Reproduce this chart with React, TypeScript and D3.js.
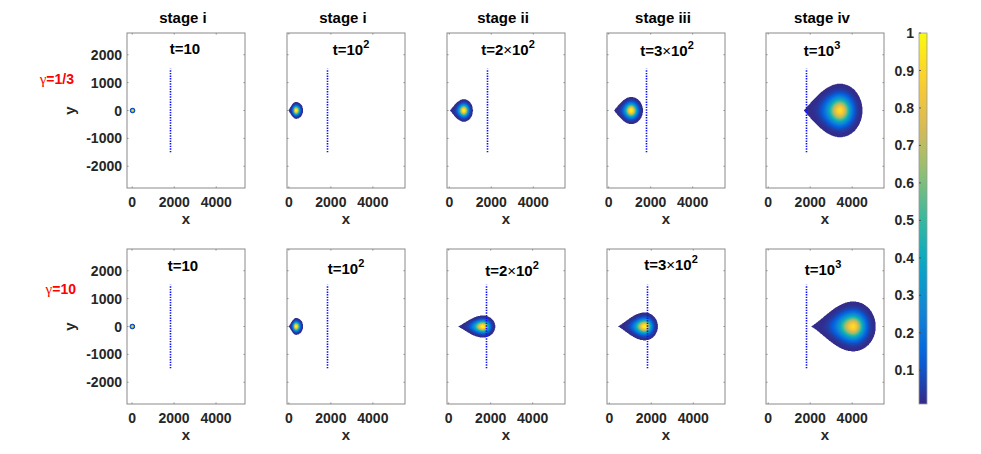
import React, { useMemo } from 'react';
import * as d3 from 'd3';

// ---------- data ----------
const stageTitles = ['stage i', 'stage i', 'stage ii', 'stage iii', 'stage iv'];
const timePrefix = ['t=10', 't=10', 't=2', 't=3', 't=10'];
const timeHasTimes = [false, false, true, true, false];
const timeExp = ['', '2', '2', '2', '3'];
const gammaValues = ['1/3', '10'];
const xTicks = [0, 2000, 4000];
const yTicks = [-2000, -1000, 0, 1000, 2000];
const cbTicks = [0.1, 0.2, 0.3, 0.4, 0.5, 0.6, 0.7, 0.8, 0.9, 1];
const cbDomain = [0.01, 1];
const barrierX = 1800;
const barrierY = [-1500, 1500];
const yLim = [-2780, 2780];
const xLimLow = [
  [-250, -90, -110, -80, -105],
  [-240, -90, -80, -110, -105],
];
const xSpan = 5620;
const tipX = [
  [-120, -30, 24, 243, 1690],
  [-120, -30, 400, 371, 2005],
];
const peakX = [
  [15, 338, 690, 1071, 3419],
  [15, 338, 1638, 1690, 4052],
];
const rightX = [
  [150, 686, 1133, 1643, 4500],
  [150, 686, 2229, 2324, 5133],
];
const halfH = [
  [100, 310, 412, 495, 968],
  [100, 310, 405, 508, 903],
];
const peakVal = [
  [1, 1, 1, 1, 0.93],
  [1, 1, 1, 1, 0.92],
];
const taper = [
  [0, 1, 1, 1, 1],
  [0, 1, 1, 1, 1],
];
const tipPower = [1.0, 1.25];
const parulaStops = ['#352a87', '#0363e1', '#1485d4', '#06a7c6', '#38b99e', '#92bf73', '#d9ba56', '#fcce2e', '#f9fb0e'];

// ---------- layout ----------
const W = 981;
const H = 454;
const colLefts = [127, 287, 447, 607, 766];
const rowTops = [33, 249];
const panelW = 118;
const panelH = 155;
const timeBaselines = [
  [54, 55, 55, 56, 56],
  [271, 274, 276, 270, 275],
];
const timeCenters = [
  [185, 351, 508, 667, 822],
  [183, 346, 512, 671, 823],
];
const FONT = "'Liberation Sans', Arial, Helvetica, sans-serif";
const AXC = '#8a8a8a';
const TXT = '#262626';

const parula = d3.piecewise(d3.interpolateRgb, parulaStops);
const cmap = (v: number) => parula(Math.max(0, Math.min(1, (v - cbDomain[0]) / (cbDomain[1] - cbDomain[0]))));

function makeField(r: number, c: number) {
  const L = tipX[r][c], P = peakX[r][c], R = rightX[r][c], hh = halfH[r][c], pv = peakVal[r][c];
  const tp = taper[r][c], beta = tipPower[r];
  const edge = 0.006;
  const k = Math.log(pv / edge);
  return (x: number, y: number) => {
    const dx = x - P;
    let d2: number;
    if (dx >= 0) {
      const a = dx / (R - P);
      const b = y / hh;
      d2 = a * a + b * b;
    } else {
      const s = -dx / (P - L);
      if (s >= 1) return 0;
      const ds = tp > 0 ? 1 - Math.pow(1 - s, 1.5) : s;
      const circ = Math.sqrt(Math.max(1e-9, 1 - ds * ds));
      const hs = (1 - tp) * Math.sqrt(1 - s * s) + tp * Math.pow(Math.cos((Math.PI * s) / 2), beta);
      const w = hs / circ;
      const b = y / (hh * w);
      d2 = ds * ds + b * b;
    }
    if (d2 >= 1) return 0;
    return Math.max(0.0101, pv * Math.exp(-k * d2));
  };
}

const thresholds = d3.range(0.01, 1.0, 0.0125);

function scalesFor(r: number, c: number) {
  const left = colLefts[c];
  const top = rowTops[r];
  const x = d3.scaleLinear().domain([xLimLow[r][c], xLimLow[r][c] + xSpan]).range([left, left + panelW]);
  const y = d3.scaleLinear().domain(yLim).range([top + panelH, top]);
  return { x, y, left, top };
}

function computeBands(r: number, c: number) {
  const { x, y } = scalesFor(r, c);
  const f = makeField(r, c);
  const step = 0.5;
  const x0 = x(tipX[r][c]) - 2;
  const x1 = x(rightX[r][c]) + 2;
  const y0 = y(halfH[r][c]) - 2;
  const y1 = y(-halfH[r][c]) + 2;
  const nx = Math.ceil((x1 - x0) / step);
  const ny = Math.ceil((y1 - y0) / step);
  const values = new Array(nx * ny);
  for (let j = 0; j < ny; j++) {
    const yy = y.invert(y0 + (j + 0.5) * step);
    for (let i = 0; i < nx; i++) {
      values[j * nx + i] = f(x.invert(x0 + (i + 0.5) * step), yy);
    }
  }
  const th = thresholds.filter((t) => t < peakVal[r][c]);
  const cs = d3.contours().size([nx, ny]).thresholds(th)(values);
  const path = d3.geoPath(d3.geoIdentity().scale(step).translate([x0, y0]) as any);
  return cs.map((g) => ({ d: path(g as any) || '', fill: cmap(g.value + 0.00625) }));
}

function Panel({ r, c }: { r: number; c: number }) {
  const { x, y, left, top } = scalesFor(r, c);
  const clipId = `clip-${r}-${c}`;
  const bands = useMemo(() => computeBands(r, c), [r, c]);
  const tl = 1.5;
  const bottom = top + panelH;
  const right = left + panelW;
  const bx = Math.round(x(barrierX)) + 0.5;
  const barrier = d3.line<number>().x(() => bx).y((v) => y(v))(barrierY) || '';

  return (
    <g>
      <defs>
        <clipPath id={clipId}>
          <rect x={left} y={top} width={panelW} height={panelH} />
        </clipPath>
      </defs>
      <rect x={left} y={top} width={panelW} height={panelH} fill="#fff" />
      <g clipPath={`url(#${clipId})`}>
        {bands.map((b, i) => (
          <path key={i} d={b.d} fill={b.fill} stroke="none" />
        ))}
        <path d={barrier} stroke="#1010ff" strokeWidth={1.6} strokeDasharray="1.4 1.2" fill="none" />
      </g>
      <rect x={left} y={top} width={panelW} height={panelH} fill="none" stroke={AXC} strokeWidth={1} />
      {xTicks.map((t) => (
        <g key={'xt' + t}>
          <line x1={x(t)} x2={x(t)} y1={bottom} y2={bottom - tl} stroke={AXC} />
          <line x1={x(t)} x2={x(t)} y1={top} y2={top + tl} stroke={AXC} />
          <text x={x(t)} y={bottom + 19} textAnchor="middle" fontFamily={FONT} fontWeight="bold" fontSize={14} fill={TXT}>
            {t}
          </text>
        </g>
      ))}
      {yTicks.map((t) => (
        <g key={'yt' + t}>
          <line x1={left} x2={left + tl} y1={y(t)} y2={y(t)} stroke={AXC} />
          <line x1={right} x2={right - tl} y1={y(t)} y2={y(t)} stroke={AXC} />
          {c === 0 && (
            <text x={left - 5} y={y(t)} dy="0.36em" textAnchor="end" fontFamily={FONT} fontWeight="bold" fontSize={14} fill={TXT}>
              {t}
            </text>
          )}
        </g>
      ))}
      <text x={left + panelW / 2} y={bottom + 35.5} textAnchor="middle" fontFamily={FONT} fontWeight="bold" fontSize={15} fill={TXT}>
        x
      </text>
      {c === 0 && (
        <text transform={`translate(74.5, ${top + panelH / 2}) rotate(-90)`} textAnchor="middle" fontFamily={FONT} fontWeight="bold" fontSize={15} fill={TXT}>
          y
        </text>
      )}
      {r === 0 && (
        <text x={left + panelW / 2 - 3} y={22.5} textAnchor="middle" fontFamily={FONT} fontWeight="bold" fontSize={15} fill="#000">
          {stageTitles[c]}
        </text>
      )}
      <text x={timeCenters[r][c]} y={timeBaselines[r][c]} textAnchor="middle" fontFamily={FONT} fontWeight="bold" fontSize={15} fill="#000">
        {timePrefix[c]}
        {timeHasTimes[c] && <tspan fontWeight="normal">×</tspan>}
        {timeHasTimes[c] && <tspan>10</tspan>}
        {timeExp[c] !== '' && (
          <tspan fontSize={11} dy={-7}>
            {timeExp[c]}
          </tspan>
        )}
      </text>
    </g>
  );
}

function Colorbar() {
  const cx = 919;
  const cw = 8;
  const cy0 = 33;
  const cy1 = 404;
  const s = d3.scaleLinear().domain(cbDomain).range([cy1, cy0]);
  const stops = d3.range(0, 1.0001, 0.05);
  return (
    <g>
      <defs>
        <linearGradient id="cbGrad" x1="0" y1="1" x2="0" y2="0">
          {stops.map((t) => (
            <stop key={t} offset={t} stopColor={parula(t)} />
          ))}
        </linearGradient>
      </defs>
      <rect x={cx} y={cy0} width={cw} height={cy1 - cy0} fill="url(#cbGrad)" stroke="#9a9a9a" strokeWidth={0.8} />
      {cbTicks.map((t) => (
        <g key={t}>
          <line x1={cx} x2={cx + 2} y1={s(t)} y2={s(t)} stroke="#444" strokeWidth={0.8} />
          <text x={914} y={s(t)} dy="0.36em" textAnchor="end" fontFamily={FONT} fontWeight="bold" fontSize={14} fill={TXT}>
            {t}
          </text>
        </g>
      ))}
    </g>
  );
}

export default function App() {
  const gammaPos = [
    { x: 74, y: 84 },
    { x: 76, y: 293.5 },
  ];
  return (
    <div style={{ position: 'absolute', left: 0, top: 0 }}>
      <svg width={W} height={H} viewBox={`0 0 ${W} ${H}`} style={{ display: 'block', background: '#fff' }}>
        {[0, 1].map((r) => [0, 1, 2, 3, 4].map((c) => <Panel key={`${r}-${c}`} r={r} c={c} />))}
        {gammaValues.map((g, i) => (
          <text key={g} x={gammaPos[i].x} y={gammaPos[i].y} textAnchor="end" fontFamily={FONT} fontWeight="bold" fontSize={14} fill="#ff0000">
            <tspan fontFamily="'Liberation Serif', 'DejaVu Serif', serif" fontWeight="normal" fontSize={15}>
              γ
            </tspan>
            ={g}
          </text>
        ))}
        <Colorbar />
      </svg>
    </div>
  );
}
